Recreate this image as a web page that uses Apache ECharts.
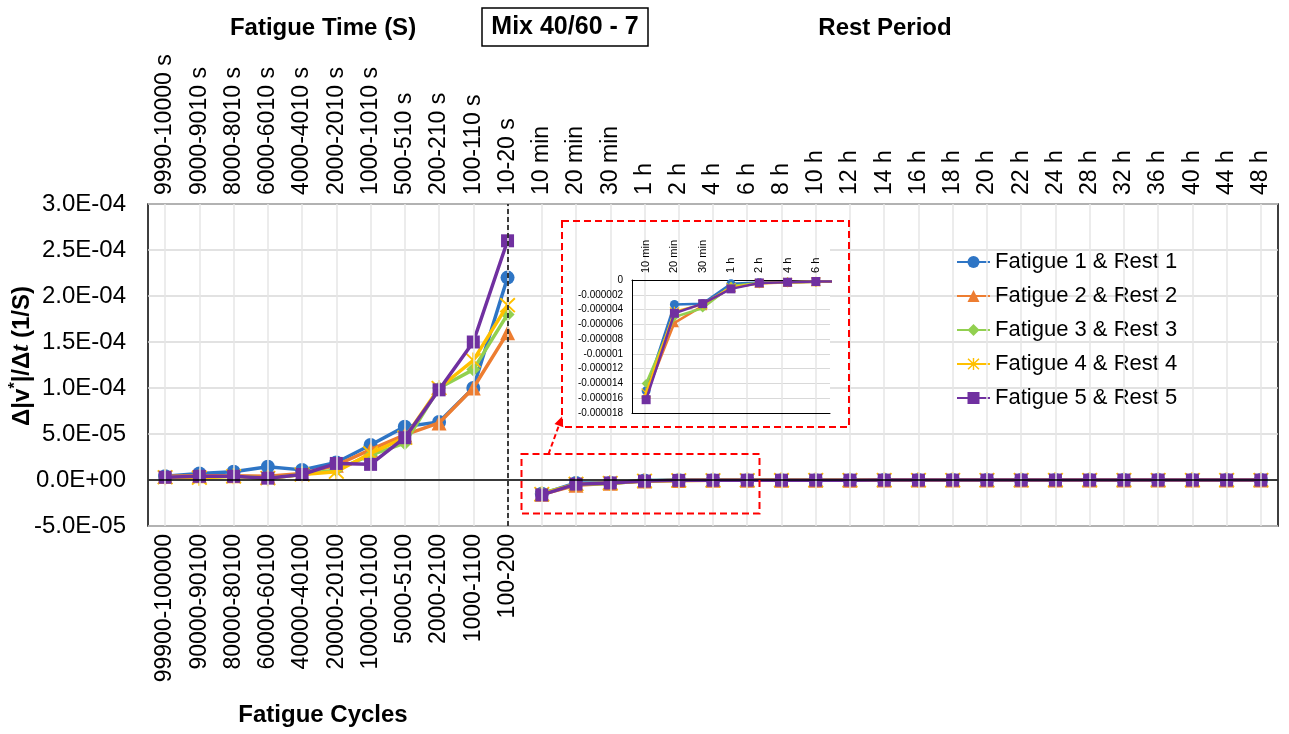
<!DOCTYPE html>
<html><head><meta charset="utf-8">
<script src="https://cdn.jsdelivr.net/npm/echarts@6/dist/echarts.min.js"></script>
<style>html,body{margin:0;padding:0;background:#fff}#c{width:1289px;height:734px}</style>
</head><body><div id="c"></div>
<script>
const FONT = 'Liberation Sans, Arial, sans-serif';

const fatigueTimeLabels = ['9990-10000 s','9000-9010 s','8000-8010 s','6000-6010 s','4000-4010 s','2000-2010 s','1000-1010 s','500-510 s','200-210 s','100-110 s','10-20 s'];
const restLabels = ['10 min','20 min','30 min','1 h','2 h','4 h','6 h','8 h','10 h','12 h','14 h','16 h','18 h','20 h','22 h','24 h','28 h','32 h','36 h','40 h','44 h','48 h'];
const fatigueCycleLabels = ['99900-100000','90000-90100','80000-80100','60000-60100','40000-40100','20000-20100','10000-10100','5000-5100','2000-2100','1000-1100','100-200'];
const seriesNames = ['Fatigue 1 & Rest 1','Fatigue 2 & Rest 2','Fatigue 3 & Rest 3','Fatigue 4 & Rest 4','Fatigue 5 & Rest 5'];
const insetLabels = ['10 min','20 min','30 min','1 h','2 h','4 h','6 h'];

const fatigue1 = [4e-6, 7e-6, 9e-6, 14.5e-6, 11e-6, 19e-6, 38e-6, 58e-6, 63e-6, 100e-6, 220e-6];
const fatigue2 = [4e-6, 4.5e-6, 4.5e-6, 4e-6, 7e-6, 16e-6, 33e-6, 49e-6, 62e-6, 100e-6, 160e-6];
const fatigue3 = [3e-6, 3e-6, 4e-6, 2e-6, 6e-6, 11e-6, 27e-6, 40e-6, 100e-6, 120e-6, 180e-6];
const fatigue4 = [3e-6, 2.5e-6, 4e-6, 2e-6, 6e-6, 9e-6, 29e-6, 46e-6, 100e-6, 130e-6, 190e-6];
const fatigue5 = [3e-6, 4e-6, 4e-6, 2e-6, 6e-6, 18e-6, 17e-6, 46e-6, 98e-6, 150e-6, 260e-6];

const rest1 = [-15.0e-6, -3.3e-6, -3.2e-6, -0.5e-6, -0.35e-6, -0.3e-6, -0.25e-6, -0.2e-6, -0.18e-6, -0.15e-6, -0.13e-6, -0.12e-6, -0.11e-6, -0.1e-6, -0.09e-6, -0.08e-6, -0.07e-6, -0.06e-6, -0.06e-6, -0.05e-6, -0.05e-6, -0.04e-6];
const rest2 = [-15.5e-6, -5.8e-6, -3.5e-6, -1.0e-6, -0.45e-6, -0.35e-6, -0.25e-6, -0.2e-6, -0.18e-6, -0.15e-6, -0.13e-6, -0.12e-6, -0.11e-6, -0.1e-6, -0.09e-6, -0.08e-6, -0.07e-6, -0.06e-6, -0.06e-6, -0.05e-6, -0.05e-6, -0.04e-6];
const rest3 = [-14.0e-6, -5.0e-6, -3.8e-6, -0.8e-6, -0.4e-6, -0.3e-6, -0.25e-6, -0.2e-6, -0.18e-6, -0.15e-6, -0.13e-6, -0.12e-6, -0.11e-6, -0.1e-6, -0.09e-6, -0.08e-6, -0.07e-6, -0.06e-6, -0.06e-6, -0.05e-6, -0.05e-6, -0.04e-6];
const rest4 = [-15.3e-6, -4.3e-6, -3.3e-6, -1.0e-6, -0.45e-6, -0.3e-6, -0.25e-6, -0.2e-6, -0.18e-6, -0.15e-6, -0.13e-6, -0.12e-6, -0.11e-6, -0.1e-6, -0.09e-6, -0.08e-6, -0.07e-6, -0.06e-6, -0.06e-6, -0.05e-6, -0.05e-6, -0.04e-6];
const rest5 = [-16.2e-6, -4.5e-6, -3.2e-6, -1.2e-6, -0.4e-6, -0.3e-6, -0.2e-6, -0.2e-6, -0.18e-6, -0.15e-6, -0.13e-6, -0.12e-6, -0.11e-6, -0.1e-6, -0.09e-6, -0.08e-6, -0.07e-6, -0.06e-6, -0.06e-6, -0.05e-6, -0.05e-6, -0.04e-6];

const yMin = -5e-5, yMax = 3e-4, yStep = 5e-5;
const insetMin = -0.000018, insetMax = 0, insetStep = 0.000002;

const categories = fatigueTimeLabels.concat(restLabels);
const fatigues = [fatigue1, fatigue2, fatigue3, fatigue4, fatigue5];
const rests = [rest1, rest2, rest3, rest4, rest5];
const colors = ['#2E75C5', '#ED7D31', '#92D050', '#FFC000', '#7030A0'];
const STAR = 'path://M-0.9,-8 L0.9,-8 L0.9,8 L-0.9,8 Z M-6.3,-7.6 L7.6,6.3 L6.3,7.6 L-7.6,-6.3 Z M-7.6,6.3 L6.3,-7.6 L7.6,-6.3 L-6.3,7.6 Z';
const symbols = ['circle', 'triangle', 'diamond', STAR, 'rect'];
const symSizes = [14, 15, 14, 16, 13];
const insetSymSizes = [9, 9, 9, 10, 9];

function sciFmt(v) {
  const s = v.toExponential(1).split('e');
  let e = parseInt(s[1], 10);
  const sign = e < 0 ? '-' : '+';
  e = Math.abs(e);
  return s[0] + 'E' + sign + (e < 10 ? '0' + e : '' + e);
}
function decFmt(v) {
  if (Math.abs(v) < 1e-12) return '0';
  return String(parseFloat(v.toFixed(6)));
}

const nulls = n => Array.from({length: n}, () => null);
const series = [];
const markData = categories.map(c => ({xAxis: c, lineStyle: {color: '#E6E6E6', width: 1.5, type: 'solid'}}));
markData.push({xAxis: '10-20 s', lineStyle: {color: '#000', width: 1.5, type: [5, 3]}});
markData.push({yAxis: 0, lineStyle: {color: '#000', width: 1.5, type: 'solid'}});
series.push({
  type: 'line', xAxisIndex: 0, yAxisIndex: 0, data: nulls(categories.length), z: 1, silent: true,
  symbol: 'none', legendHoverLink: false,
  markLine: {silent: true, symbol: ['none', 'none'], label: {show: false}, animation: false, data: markData}
});
for (let k = 0; k < 5; k++) {
  const common = {
    type: 'line', name: seriesNames[k], xAxisIndex: 0, yAxisIndex: 0, z: 3 + k * 0.1,
    symbol: symbols[k], symbolSize: symSizes[k], showAllSymbol: true,
    lineStyle: {color: colors[k], width: 3.5}, itemStyle: {color: colors[k]},
    emphasis: {disabled: true}
  };
  series.push(Object.assign({}, common, {data: fatigues[k].concat(nulls(restLabels.length))}));
  series.push(Object.assign({}, common, {data: nulls(fatigueTimeLabels.length).concat(rests[k])}));
}
for (let k = 0; k < 5; k++) {
  series.push({
    type: 'line', name: seriesNames[k] + ' inset', xAxisIndex: 2, yAxisIndex: 1, z: 6 + k * 0.1,
    symbol: symbols[k], symbolSize: insetSymSizes[k], showAllSymbol: true, clip: true,
    lineStyle: {color: colors[k], width: 2.5}, itemStyle: {color: colors[k]},
    emphasis: {disabled: true},
    data: rests[k].slice(0, insetLabels.length + 1)
  });
}

const dash = [7, 4];
const option = {
  animation: false,
  textStyle: {fontFamily: FONT},
  legend: {
    data: seriesNames, orient: 'vertical', left: 951, top: 246,
    itemWidth: 33, itemHeight: 15, itemGap: 12, selectedMode: false,
    textStyle: {fontSize: 22, color: '#000', fontFamily: FONT}
  },
  grid: [
    {left: 148, top: 204, right: 11, bottom: 208, show: true, borderColor: '#000', borderWidth: 1.5, backgroundColor: 'transparent', outerBoundsMode: 'none', containLabel: false},
    {left: 632, top: 280, width: 198, height: 133, show: false, z: 3, outerBoundsMode: 'none', containLabel: false}
  ],
  xAxis: [
    {gridIndex: 0, type: 'category', data: categories, position: 'bottom', boundaryGap: true,
      axisLine: {show: false, onZero: false}, axisTick: {show: false}, splitLine: {show: false},
      axisLabel: {interval: 0, rotate: 90, fontSize: 23, color: '#000', margin: 8,
        formatter: (v, i) => fatigueCycleLabels[i] || ''}},
    {gridIndex: 0, type: 'category', data: categories, position: 'top', boundaryGap: true,
      axisLine: {show: false, onZero: false}, axisTick: {show: false}, splitLine: {show: false},
      axisLabel: {interval: 0, rotate: -90, fontSize: 23, color: '#000', margin: 9}},
    {gridIndex: 1, type: 'category', data: insetLabels, position: 'top', boundaryGap: true, z: 5,
      axisLine: {show: true, onZero: false, lineStyle: {color: '#000', width: 1}}, axisTick: {show: false}, splitLine: {show: false},
      axisLabel: {interval: 0, rotate: -90, fontSize: 11, color: '#000', margin: 7}},
    {gridIndex: 1, type: 'category', data: insetLabels, position: 'bottom', boundaryGap: true, z: 5,
      axisLine: {show: true, onZero: false, lineStyle: {color: '#000', width: 1}}, axisTick: {show: false}, splitLine: {show: false},
      axisLabel: {show: false}}
  ],
  yAxis: [
    {gridIndex: 0, type: 'value', min: yMin, max: yMax, interval: yStep,
      axisLine: {show: false}, axisTick: {show: false},
      splitLine: {show: true, lineStyle: {color: '#D9D9D9', width: 1.5}},
      axisLabel: {fontSize: 24, color: '#000', margin: 22, formatter: sciFmt}},
    {gridIndex: 1, type: 'value', min: insetMin, max: insetMax, interval: insetStep, z: 5,
      axisLine: {show: true, lineStyle: {color: '#000', width: 1}}, axisTick: {show: false},
      splitLine: {show: true, lineStyle: {color: '#D9D9D9', width: 1}},
      axisLabel: {fontSize: 10, color: '#000', margin: 9, formatter: decFmt}}
  ],
  series: series,
  graphic: [
    {type: 'rect', shape: {x: 562, y: 230, width: 268, height: 196}, style: {fill: '#fff'}, z: 2.5, silent: true},
    {type: 'rect', shape: {x: 562, y: 221, width: 287, height: 206}, style: {fill: 'none', stroke: '#FF0000', lineWidth: 2, lineDash: dash}, z: 20, silent: true},
    {type: 'rect', shape: {x: 521.5, y: 454, width: 238, height: 59.5}, style: {fill: 'none', stroke: '#FF0000', lineWidth: 2, lineDash: dash}, z: 20, silent: true},
    {type: 'line', shape: {x1: 548.5, y1: 454, x2: 558.9, y2: 425.5}, style: {stroke: '#FF0000', lineWidth: 2, lineDash: [5, 3]}, z: 20, silent: true},
    {type: 'polygon', shape: {points: [[562, 416.5], [563.3, 427.2], [554.5, 424.0]]}, style: {fill: '#FF0000'}, z: 20, silent: true},
    {type: 'text', x: 323, y: 28, z: 20, silent: true,
      style: {text: 'Fatigue Time (S)', fontSize: 24, fontWeight: 'bold', fontFamily: FONT, fill: '#000', textAlign: 'center', textVerticalAlign: 'middle', align: 'center', verticalAlign: 'middle'}},
    {type: 'rect', shape: {x: 482, y: 8, width: 166, height: 38}, style: {fill: '#fff', stroke: '#000', lineWidth: 1.5}, z: 19, silent: true},
    {type: 'text', x: 565, y: 27, z: 20, silent: true,
      style: {text: 'Mix 40/60 - 7', fontSize: 25, fontWeight: 'bold', fontFamily: FONT, fill: '#000', textAlign: 'center', textVerticalAlign: 'middle', align: 'center', verticalAlign: 'middle'}},
    {type: 'text', x: 885, y: 28, z: 20, silent: true,
      style: {text: 'Rest Period', fontSize: 24, fontWeight: 'bold', fontFamily: FONT, fill: '#000', textAlign: 'center', textVerticalAlign: 'middle', align: 'center', verticalAlign: 'middle'}},
    {type: 'text', x: 323, y: 715, z: 20, silent: true,
      style: {text: 'Fatigue Cycles', fontSize: 24, fontWeight: 'bold', fontFamily: FONT, fill: '#000', textAlign: 'center', textVerticalAlign: 'middle', align: 'center', verticalAlign: 'middle'}},
    {type: 'text', x: 22, y: 356, rotation: Math.PI / 2, z: 20, silent: true,
      style: {text: 'Δ|v{sup|*}|/Δ{it|t} (1/S)', fontSize: 24, fontWeight: 'bold', fontFamily: FONT, fill: '#000',
        textAlign: 'center', textVerticalAlign: 'middle', align: 'center', verticalAlign: 'middle',
        rich: {
          sup: {fontSize: 16, fontWeight: 'bold', fontFamily: FONT, fill: '#000', padding: [0, 0, 12, 0]},
          it: {fontSize: 25, fontWeight: 'bold', fontStyle: 'italic', fontFamily: 'Liberation Serif, serif', fill: '#000'}
        }}}
  ]
};
const chart = echarts.init(document.getElementById('c'), null, {renderer: 'canvas'});
chart.setOption(option);
</script>
</body></html>
